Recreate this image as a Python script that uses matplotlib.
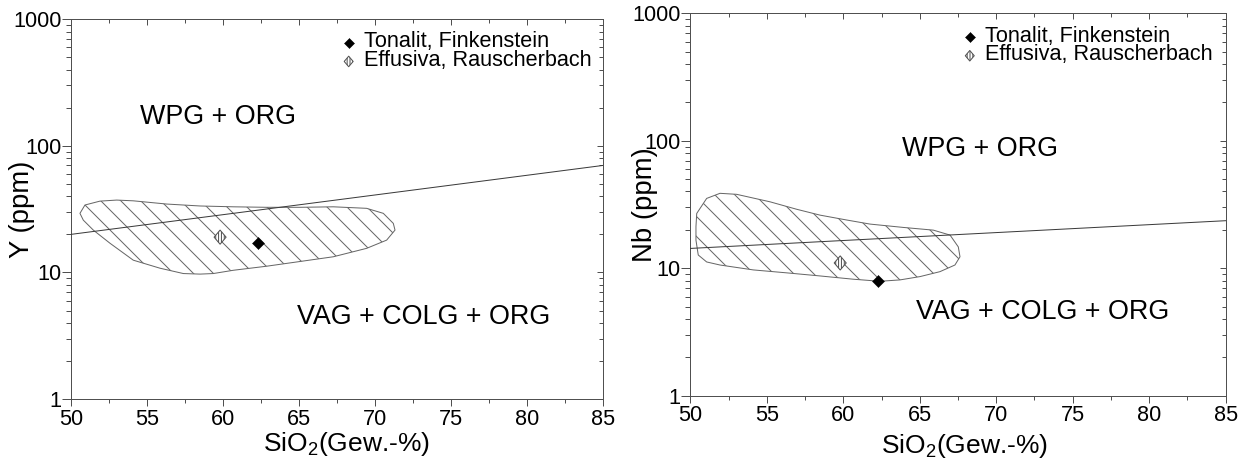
import numpy as np
import matplotlib
matplotlib.use("Agg")
import matplotlib.pyplot as plt
from matplotlib.path import Path
from matplotlib.patches import Polygon
from matplotlib.ticker import MultipleLocator, LogLocator, FuncFormatter, NullFormatter

plt.rcParams["font.family"] = ["Liberation Sans", "DejaVu Sans"]
plt.rcParams["mathtext.default"] = "regular"
plt.rcParams["hatch.color"] = "#555555"
plt.rcParams["hatch.linewidth"] = 0.6

# ---------------- data ----------------
sio2_limits = [50, 85]
ppm_limits = [1, 1000]
y_ticks = [1, 10, 100, 1000]

# discrimination boundaries (end points at SiO2 = 50 and 85)
boundary_sio2 = [50, 85]
y_boundary = [20, 70]
nb_boundary = [14.3, 23.6]

# reference field outline, Y diagram
y_field_sio2 = [50.57, 50.90, 51.89, 52.99, 54.08, 56.28, 58.48, 60.67, 62.87, 65.06,
                67.26, 69.45, 70.55, 71.21, 71.32, 70.77, 69.45, 67.26, 65.06, 62.87,
                60.67, 59.35, 58.48, 57.38, 55.84, 54.08, 52.55, 51.45, 50.79]
y_field_ppm = [29.3, 34.1, 36.6, 37.3, 36.8, 34.7, 33.5, 33.0, 32.7, 32.7,
               33.0, 32.1, 29.3, 24.4, 21.6, 18.0, 15.5, 13.3, 12.2, 11.2,
               10.4, 9.8, 9.7, 9.8, 10.8, 12.5, 17.0, 21.6, 25.9]

# reference field outline, Nb diagram
nb_field_sio2 = [50.42, 51.07, 51.94, 53.03, 55.21, 56.96, 58.48, 60.22, 61.75, 63.92,
                 65.89, 66.98, 67.52, 67.63, 67.30, 66.32, 65.02, 63.71, 62.40, 60.66,
                 58.48, 56.30, 54.12, 51.94, 51.07, 50.52, 50.37, 50.37]
nb_field_ppm = [26.9, 35.3, 38.7, 38.0, 33.2, 29.0, 26.1, 23.9, 22.2, 20.9,
                19.9, 18.2, 14.7, 12.3, 10.6, 9.4, 8.6, 8.1, 7.9, 8.2,
                8.7, 9.2, 9.7, 10.6, 11.2, 12.7, 16.6, 21.2]

sample_names = ["Tonalit, Finkenstein", "Effusiva, Rauscherbach"]
sample_sio2 = [62.3, 59.8]
sample_y = [17, 19]
sample_nb = [8, 11]

region_upper = "WPG + ORG"
region_lower = "VAG + COLG + ORG"
x_label = "SiO$_2$(Gew.-%)"

# ---------------- styling ----------------
GREY = "#505050"
LINE = "#3a3a3a"
DPI = 120
W, H = 1247, 459
MARKER_HATCH = "|||||||"

diamond = Path([(0, 1), (1, 0), (0, -1), (-1, 0), (0, 1)],
               [Path.MOVETO, Path.LINETO, Path.LINETO, Path.LINETO, Path.CLOSEPOLY])
slim_diamond = Path([(0, 1), (0.85, 0), (0, -1), (-0.85, 0), (0, 1)],
                    [Path.MOVETO, Path.LINETO, Path.LINETO, Path.LINETO, Path.CLOSEPOLY])


def px_axes(left, right, top, bottom):
    return [left / W, 1 - bottom / H, (right - left) / W, (bottom - top) / H]


def style(ax):
    ax.set_xlim(*sio2_limits)
    ax.set_yscale("log")
    ax.set_ylim(*ppm_limits)
    ax.xaxis.set_major_locator(MultipleLocator(5))
    ax.xaxis.set_minor_locator(MultipleLocator(2.5))
    ax.yaxis.set_major_locator(LogLocator(base=10))
    ax.yaxis.set_minor_locator(LogLocator(base=10, subs=np.arange(2, 10)))
    ax.set_yticks(y_ticks)
    ax.yaxis.set_major_formatter(FuncFormatter(lambda v, _: f"{v:g}"))
    ax.yaxis.set_minor_formatter(NullFormatter())
    ax.tick_params(which="both", direction="out", color=GREY, width=0.6,
                   labelsize=13, top=False, right=False)
    ax.tick_params(axis="y", which="major", length=5.2, pad=0.8)
    ax.tick_params(axis="y", which="minor", length=2.8)
    ax.tick_params(axis="x", which="major", length=4.2, pad=1.6)
    ax.tick_params(axis="x", which="minor", length=2.4)
    for sp in ax.spines.values():
        sp.set_color(GREY)
        sp.set_linewidth(0.6)

    top = ax.secondary_xaxis("top")
    top.xaxis.set_major_locator(MultipleLocator(5))
    top.xaxis.set_minor_locator(MultipleLocator(2.5))
    top.tick_params(which="both", direction="in", color=GREY, width=0.6,
                    labeltop=False)
    top.tick_params(which="major", length=3.6)
    top.tick_params(which="minor", length=2.2)
    top.spines["top"].set_color(GREY)
    top.spines["top"].set_linewidth(0.6)

    right = ax.secondary_yaxis("right")
    right.yaxis.set_major_locator(LogLocator(base=10))
    right.yaxis.set_minor_locator(LogLocator(base=10, subs=np.arange(2, 10)))
    right.yaxis.set_major_formatter(NullFormatter())
    right.yaxis.set_minor_formatter(NullFormatter())
    right.tick_params(which="both", direction="in", color=GREY, width=0.6,
                      labelright=False)
    right.tick_params(which="major", length=3.6)
    right.tick_params(which="minor", length=2.2)
    right.spines["right"].set_color(GREY)
    right.spines["right"].set_linewidth(0.6)


def draw_panel(ax, field_x, field_y, boundary, samples_ppm, ylabel,
               ylabel_x, xlabel_pos, upper_pos, lower_pos):
    style(ax)
    field = Polygon(np.column_stack([field_x, field_y]), closed=True,
                    facecolor="none", edgecolor="#666666", linewidth=0.6,
                    hatch="\\\\", zorder=2)
    ax.add_patch(field)
    ax.plot(boundary_sio2, boundary, color=LINE, linewidth=0.6, zorder=3)

    ax.scatter([sample_sio2[0]], [samples_ppm[0]], marker=diamond, s=52,
               facecolor="black", edgecolor="black", linewidth=0.3, zorder=5)
    ax.scatter([sample_sio2[1]], [samples_ppm[1]], marker=slim_diamond, s=72,
               facecolor="white", edgecolor=GREY, linewidth=0.6,
               hatch=MARKER_HATCH, zorder=5)

    ax.text(upper_pos[0], upper_pos[1], region_upper, fontsize=16.1,
            ha="left", va="baseline", zorder=4)
    ax.text(lower_pos[0], lower_pos[1], region_lower, fontsize=16.1,
            ha="left", va="baseline", zorder=4)

    # legend
    ax.scatter([0.522], [0.937], marker=diamond, s=36, facecolor="black",
               edgecolor="black", linewidth=0.3, transform=ax.transAxes,
               clip_on=False, zorder=6)
    ax.scatter([0.522], [0.889], marker=slim_diamond, s=40, facecolor="white",
               edgecolor=GREY, linewidth=0.6, hatch=MARKER_HATCH,
               transform=ax.transAxes, clip_on=False, zorder=6)
    ax.text(0.551, 0.926, sample_names[0], fontsize=13.0, ha="left",
            va="baseline", transform=ax.transAxes)
    ax.text(0.551, 0.878, sample_names[1], fontsize=13.0, ha="left",
            va="baseline", transform=ax.transAxes)

    ax.text(ylabel_x, 0.5, ylabel, fontsize=16.5, rotation=90,
            rotation_mode="anchor", ha="center", va="center",
            transform=ax.transAxes)
    ax.text(xlabel_pos[0], xlabel_pos[1], x_label, fontsize=15.8,
            ha="center", va="baseline", transform=ax.transAxes)


fig = plt.figure(figsize=(W / DPI, H / DPI), dpi=DPI)
ax1 = fig.add_axes(px_axes(71.3, 602.7, 19.3, 399.0))
ax2 = fig.add_axes(px_axes(690.3, 1225.7, 13.3, 395.7))

draw_panel(ax1, y_field_sio2, y_field_ppm, y_boundary, sample_y, "Y (ppm)",
           -0.093, (0.517, -0.138), (54.5, 148.6), (64.85, 3.91))
draw_panel(ax2, nb_field_sio2, nb_field_ppm, nb_boundary, sample_nb, "Nb (ppm)",
           -0.085, (0.513, -0.149), (63.82, 76.3), (64.75, 4.0))

fig.savefig("out.png", dpi=DPI)
